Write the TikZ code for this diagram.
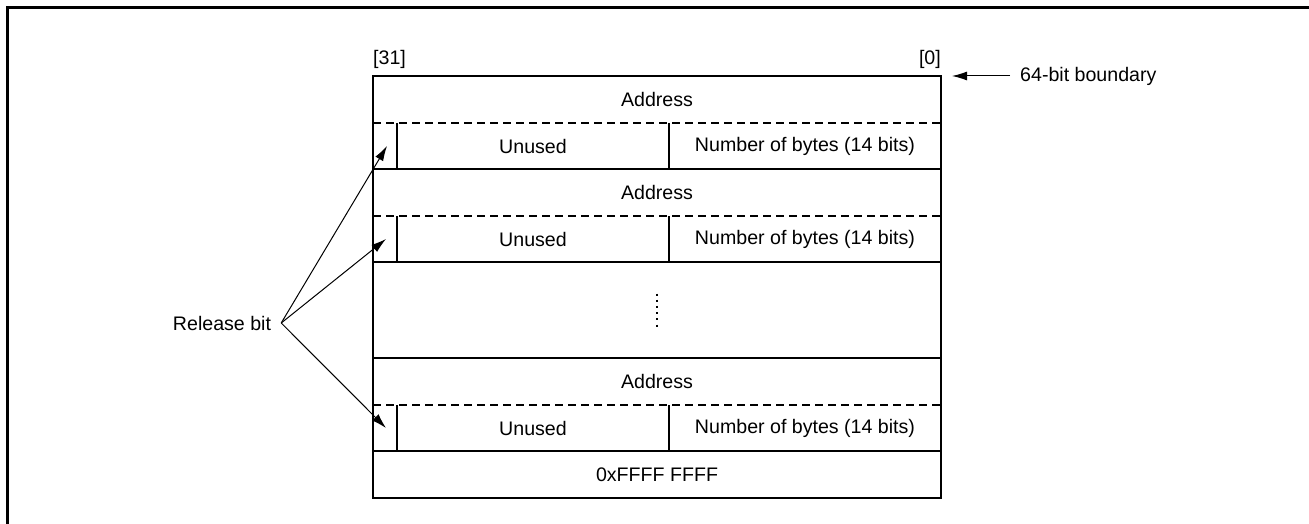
\documentclass[tikz,border=0pt]{standalone}
\usepackage{fontspec}
\setmainfont{Liberation Sans}
\usepackage{tikz}
\usetikzlibrary{positioning,arrows.meta}
\tikzstyle{field} = [rectangle, inner sep=0pt, outer sep=0pt,
    minimum height=47pt, font=\fontsize{19.6}{23}\selectfont]
\tikzstyle{addr} = [field, minimum width=568pt]
\tikzstyle{bit} = [field, minimum width=24pt, minimum height=46pt]
\tikzstyle{half} = [field, minimum width=272pt, minimum height=46pt]
\tikzstyle{lbl} = [inner sep=0pt, font=\fontsize{19.6}{23}\selectfont]
\tikzstyle{frame} = [draw, line width=3pt]
\tikzstyle{outline} = [draw, line width=2.2pt]
\tikzstyle{rule} = [draw, line width=2pt]
\tikzstyle{sep} = [draw, line width=1.2pt, dash pattern=on 8pt off 5pt]
\tikzstyle{div} = [draw, line width=1.3pt]
\tikzstyle{dots} = [draw, line width=2pt, dash pattern=on 2pt off 4.2pt]
\tikzstyle{line} = [draw, line width=1pt, -{Latex[length=15pt,width=9pt]}]

\begin{document}
\begin{tikzpicture}[x=1pt, y=-1pt]
    \useasboundingbox (0,0) rectangle (1309,524);
    \path [frame] (7.5,524) -- (7.5,7.5) -- (1309,7.5);
    % Place nodes
    \node [addr] (addr1) at (657,99.5) {Address};
    \node [bit, anchor=north west] (rel1) at (addr1.south west) {};
    \node [half, right=0pt of rel1] (unused1) {Unused};
    \node [half, right=0pt of unused1] (bytes1) {Number of bytes (14 bits)};
    \node [addr, anchor=north west] (addr2) at (rel1.south west) {Address};
    \node [bit, anchor=north west] (rel2) at (addr2.south west) {};
    \node [half, right=0pt of rel2] (unused2) {Unused};
    \node [half, right=0pt of unused2] (bytes2) {Number of bytes (14 bits)};
    \node [addr, minimum height=96pt, anchor=north west] (gap) at (rel2.south west) {};
    \node [addr, anchor=north west] (addr3) at (gap.south west) {Address};
    \node [bit, anchor=north west] (rel3) at (addr3.south west) {};
    \node [half, right=0pt of rel3] (unused3) {Unused};
    \node [half, right=0pt of unused3] (bytes3) {Number of bytes (14 bits)};
    \node [addr, anchor=north west] (last) at (rel3.south west) {0xFFFF FFFF};
    % Labels
    \node [lbl, anchor=west] (msb) at ([yshift=17pt]addr1.north west) {[31]};
    \node [lbl, anchor=east] (lsb) at ([yshift=17pt]addr1.north east) {[0]};
    \node [lbl, anchor=west] (bound) at ([xshift=79pt]addr1.north east) {64-bit boundary};
    \node [lbl, inner xsep=10pt] (release) at (222,323) {Release bit};
    % Draw rows
    \path [sep] (addr1.south west) -- (addr1.south east);
    \path [div] (rel1.north east) -- (rel1.south east);
    \path [div] (unused1.north east) -- (unused1.south east);
    \path [rule] (rel1.south west) -- (bytes1.south east);
    \path [sep] (addr2.south west) -- (addr2.south east);
    \path [div] (rel2.north east) -- (rel2.south east);
    \path [div] (unused2.north east) -- (unused2.south east);
    \path [rule] (rel2.south west) -- (bytes2.south east);
    \path [dots] ([yshift=16.5pt]gap.center) -- ([yshift=-16.5pt]gap.center);
    \path [rule] (gap.south west) -- (gap.south east);
    \path [sep] (addr3.south west) -- (addr3.south east);
    \path [div] (rel3.north east) -- (rel3.south east);
    \path [div] (unused3.north east) -- (unused3.south east);
    \path [rule] (rel3.south west) -- (bytes3.south east);
    \path [outline] (addr1.north west) rectangle (last.south east);
    % Draw edges
    \path [line] ([xshift=-10pt]bound.west) -- ([xshift=11pt]addr1.north east);
    \path [line] (release.east) -- ([xshift=2pt]rel1.center);
    \path [line] (release.east) -- ([xshift=1pt]rel2.center);
    \path [line] (release.east) -- ([xshift=1pt]rel3.center);
\end{tikzpicture}
\end{document}
